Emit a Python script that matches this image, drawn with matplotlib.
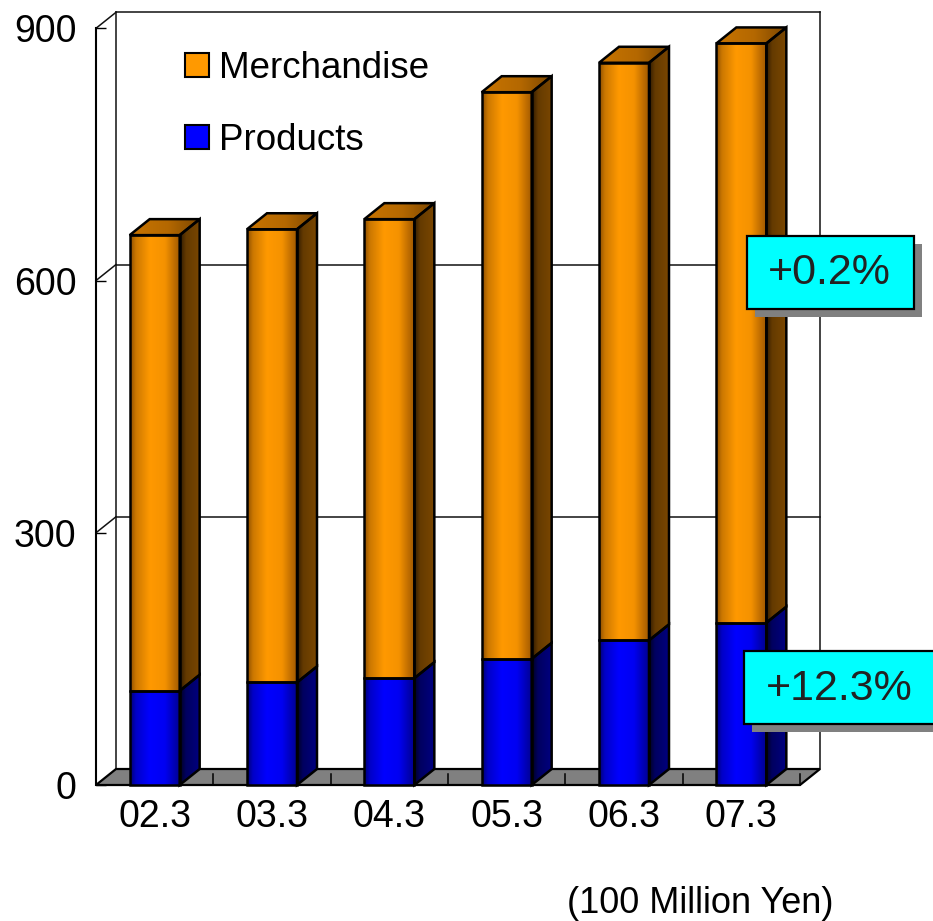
import numpy as np
import matplotlib
matplotlib.use('Agg')
import matplotlib.pyplot as plt
from matplotlib.patches import Polygon, Rectangle
from matplotlib.colors import LinearSegmentedColormap

# ---------------- data ----------------
categories = ['02.3', '03.3', '04.3', '05.3', '06.3', '07.3']
products = [112, 122, 127, 150, 172, 193]
merchandise = [542, 539, 546, 674, 687, 689]
series_names = ['Merchandise', 'Products']
yticks = [0, 300, 600, 900]
notes = ['+0.2%', '+12.3%']
unit_label = '(100 Million Yen)'

plt.rcParams['font.family'] = ['Liberation Sans', 'DejaVu Sans']

W, H = 933, 921
fig = plt.figure(figsize=(W / 100, H / 100), dpi=100)


def fx(x):
    return x / W


def fy(y):
    return 1 - y / H


# front plane geometry (pixels)
X0, X1 = 96, 800          # x range of categories (-0.5 .. 5.5)
Y0, Y900 = 785, 28.3      # y pixel of 0 and 900
ncat = len(categories)
px_per_cat = (X1 - X0) / ncat
px_per_val = (Y0 - Y900) / 900.0
xmax_ext = 5.5 + 0.4
ymax_ext = 960
ax = fig.add_axes([fx(X0), fy(Y0),
                   (xmax_ext + 0.5) * px_per_cat / W,
                   ymax_ext * px_per_val / H])
ax.set_xlim(-0.5, xmax_ext)
ax.set_ylim(0, ymax_ext)
ax.patch.set_alpha(0)

DX = 20 / px_per_cat      # depth offset in data units
DY = 16 / px_per_val
BW = 50 / px_per_cat      # bar width

for s in ['top', 'right', 'bottom']:
    ax.spines[s].set_visible(False)
ax.spines['left'].set_bounds(0, 900)
ax.spines['left'].set_linewidth(1.5)
ax.spines['left'].set_zorder(6)
ax.set_yticks(yticks)
ax.set_yticklabels([str(v) for v in yticks])
ax.tick_params(axis='y', direction='in', length=7, width=1.0, pad=14,
               labelsize=27, colors='black')
ax.set_xticks(range(ncat))
ax.set_xticklabels(categories)
ax.tick_params(axis='x', length=0, pad=10, labelsize=27)

# ---------------- walls & floor ----------------
line_kw = dict(color='#111111', lw=1.1, zorder=1, clip_on=False)
ax.plot([-0.5 + DX, -0.5 + DX], [DY, 900 + DY], **line_kw)
ax.plot([5.5 + DX, 5.5 + DX], [DY, 900 + DY], **line_kw)
for v in yticks[1:]:
    ax.plot([-0.5 + DX, 5.5 + DX], [v + DY, v + DY], **line_kw)
    ax.plot([-0.5, -0.5 + DX], [v, v + DY], **line_kw)

floor = Polygon([(-0.5, 0), (5.5, 0), (5.5 + DX, DY), (-0.5 + DX, DY)],
                closed=True, fc='#808080', ec='black', lw=1.6, zorder=2,
                clip_on=False)
ax.add_patch(floor)
for k in np.arange(0.5, ncat, 1.0):
    ax.plot([k, k], [0, 11 / px_per_val], color='black', lw=1.1, zorder=2,
            clip_on=False)

# ---------------- colour ramps ----------------
cm_of = LinearSegmentedColormap.from_list('of', [(0, '#8a4c00'), (0.12, '#cc7800'), (0.4, '#ff9900'),
                                                 (0.7, '#f59200'), (1, '#a05800')])
cm_os = LinearSegmentedColormap.from_list('os', [(0, '#2e1a00'), (0.3, '#643a00'), (1, '#7a4700')])
cm_ot = LinearSegmentedColormap.from_list('ot', [(0, '#c87400'), (0.55, '#b46800'), (1, '#7c4600')])
cm_bf = LinearSegmentedColormap.from_list('bf', [(0, '#000070'), (0.12, '#0000c8'), (0.4, '#0000ff'),
                                                 (0.7, '#0000f2'), (1, '#000090')])
cm_bs = LinearSegmentedColormap.from_list('bs', [(0, '#000020'), (0.3, '#000060'), (1, '#000080')])
grad = np.linspace(0, 1, 256).reshape(1, -1)


def grad_poly(pts, cmap, z):
    xs = [p[0] for p in pts]
    ys = [p[1] for p in pts]
    poly = Polygon(pts, closed=True, fc='none', ec='black', lw=1.8, zorder=z + 0.5,
                   clip_on=False, joinstyle='miter')
    ax.add_patch(poly)
    im = ax.imshow(grad, cmap=cmap, extent=[min(xs), max(xs), min(ys), max(ys)],
                   aspect='auto', interpolation='bicubic', origin='lower', zorder=z)
    im.set_clip_path(poly)
    im.set_clip_box(None)
    return im


for i in range(ncat):
    xl, xr = i - BW / 2, i + BW / 2
    p = products[i]
    t = p + merchandise[i]
    z = 3 + i
    # sides
    grad_poly([(xr, 0), (xr + DX, DY), (xr + DX, p + DY), (xr, p)], cm_bs, z)
    grad_poly([(xr, p), (xr + DX, p + DY), (xr + DX, t + DY), (xr, t)], cm_os, z)
    # top
    grad_poly([(xl, t), (xr, t), (xr + DX, t + DY), (xl + DX, t + DY)], cm_ot, z)
    # fronts
    grad_poly([(xl, 0), (xr, 0), (xr, p), (xl, p)], cm_bf, z + 0.2)
    grad_poly([(xl, p), (xr, p), (xr, t), (xl, t)], cm_of, z + 0.2)

ax.set_xlim(-0.5, xmax_ext)
ax.set_ylim(0, ymax_ext)

# ---------------- legend ----------------
handles = [Rectangle((0, 0), 1, 1, fc='#ff9900', ec='black', lw=1.5),
           Rectangle((0, 0), 1, 1, fc='#0000ff', ec='black', lw=1.5)]
fig.legend(handles, series_names, loc='upper left',
           bbox_to_anchor=(fx(185), fy(51)), frameon=False, fontsize=26.5,
           handlelength=0.64, handleheight=0.64, handletextpad=0.28,
           labelspacing=1.0, borderpad=0, borderaxespad=0)

# ---------------- annotation boxes ----------------


def fig_rect(xa, ya, xb, yb, **kw):
    r = Rectangle((fx(xa), fy(yb)), (xb - xa) / W, (yb - ya) / H,
                  transform=fig.transFigure, **kw)
    fig.add_artist(r)


boxes = [(747, 236, 914, 309), (744, 651, 936, 724)]
for (xa, ya, xb, yb), note in zip(boxes, notes):
    fig_rect(xa + 8, ya + 8, xb + 8, yb + 8, fc='#808080', ec='none', zorder=20)
    fig_rect(xa, ya, xb, yb, fc='#00ffff', ec='black', lw=1.6, zorder=21)
    fig.text(fx((xa + xb) / 2 - 1), fy((ya + yb) / 2 + 1), note, ha='center', va='center',
             fontsize=31, color='#222222', zorder=22)

fig.text(fx(567), fy(903), unit_label, ha='left', va='center', fontsize=26,
         color='black')

fig.savefig('out.png', dpi=100)
